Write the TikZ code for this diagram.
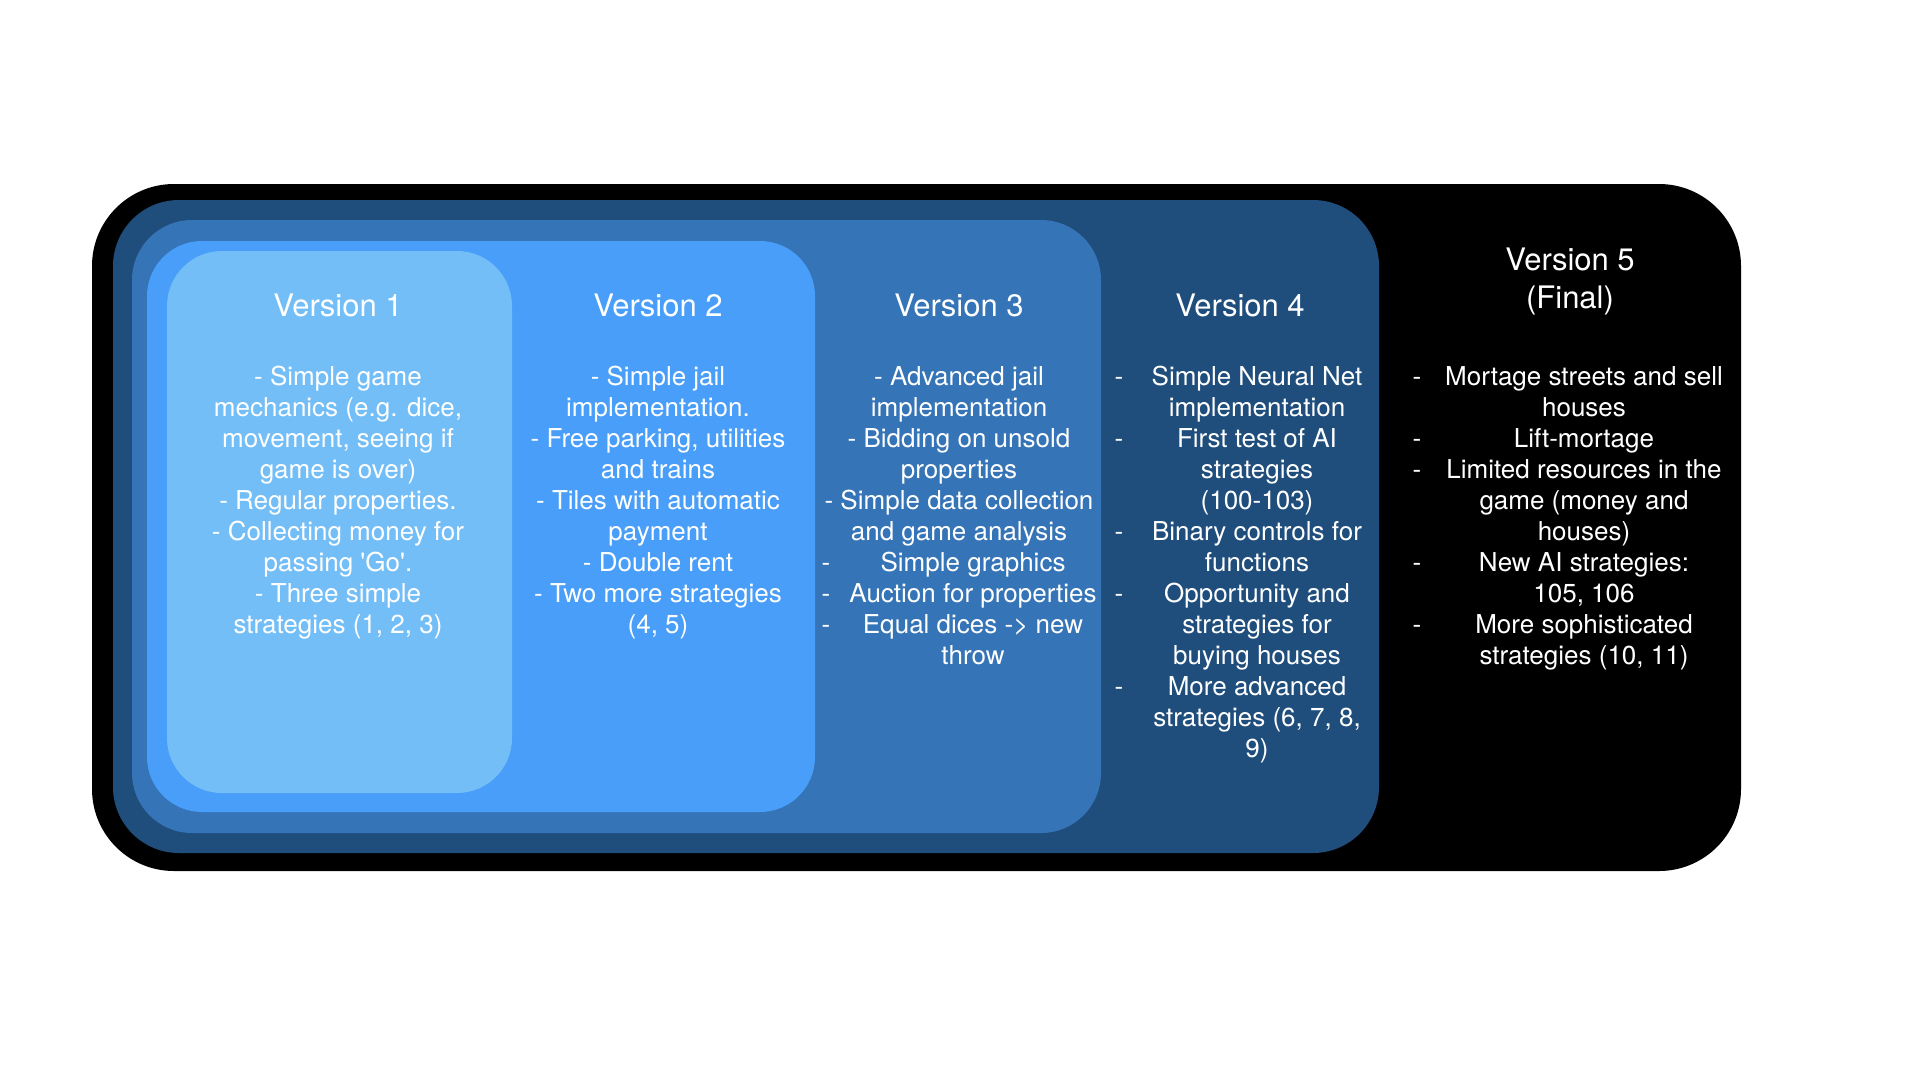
\documentclass[tikz,border=0pt]{standalone}
\usepackage{fontspec}
\setmainfont{TeX Gyre Heros}
\definecolor{cblack}{HTML}{000000}
\definecolor{cv4}{HTML}{1F4E7D}
\definecolor{cv3}{HTML}{3574B6}
\definecolor{cv2}{HTML}{489EF8}
\definecolor{cv1}{HTML}{74BEF8}
\tikzset{
  body/.style={text=white, inner sep=0pt, font=\fontsize{26}{31}\selectfont},
  ttl/.style={text=white, inner sep=0pt, font=\fontsize{31}{38}\selectfont},
}
\newcommand\colLines[4]{%
  \foreach \t [count=\i from 0] in {#4} {
    \node[body, anchor=base, name=#1-\i] at (#2, #3+31*\i) {\t};
  }%
}
\newcommand\colDashes[4]{%
  \foreach \i in {#4} {
    \node[body, anchor=base, name=#1-d\i] at (#2, #3+31*\i) {-};
  }%
}
\begin{document}
\begin{tikzpicture}[x=1pt, y=-1pt]
\useasboundingbox (0,0) rectangle (1920,1080);
\fill[white] (0,0) rectangle (1920,1080);
% nested version boxes
\fill[cblack, rounded corners=82pt] (92,184) rectangle (1741,871);
\fill[cv4, rounded corners=66pt] (113,200) rectangle (1379,853);
\fill[cv3, rounded corners=60pt] (132,220) rectangle (1101,833);
\fill[cv2, rounded corners=55pt] (147,241) rectangle (815,812);
\fill[cv1, rounded corners=55pt] (167,251) rectangle (512,793);
% titles
\node[ttl, anchor=base] (t1) at (338,316) {Version 1};
\node[ttl, anchor=base] (t2) at (658,316) {Version 2};
\node[ttl, anchor=base] (t3) at (959,316) {Version 3};
\node[ttl, anchor=base] (t4) at (1240,316) {Version 4};
\node[ttl, anchor=base] (t5a) at (1570,270) {Version 5};
\node[ttl, anchor=base] (t5b) at (1570,308) {(Final)};
% Version 1
\colLines{a}{338}{385}{{- Simple game},{mechanics (e.g. dice,},{movement, seeing if},{game is over)},{- Regular properties.},{- Collecting money for},{passing \textquotesingle Go\textquotesingle.},{- Three simple},{strategies (1, 2, 3)}}
% Version 2
\colLines{b}{658}{385}{{- Simple jail},{implementation.},{- Free parking, utilities},{and trains},{- Tiles with automatic},{payment},{- Double rent},{- Two more strategies},{(4, 5)}}
% Version 3
\colLines{c}{959}{385}{{- Advanced jail},{implementation},{- Bidding on unsold},{properties},{- Simple data collection},{and game analysis}}
\colLines{cc}{973}{571}{{Simple graphics},{Auction for properties},{Equal dices -> new},{throw}}
\colDashes{cc}{826}{571}{0,1,2}
% Version 4
\colLines{d}{1257}{385}{{Simple Neural Net},{implementation},{First test of AI},{strategies},{(100-103)},{Binary controls for},{functions},{Opportunity and},{strategies for},{buying houses},{More advanced},{strategies (6, 7, 8,},{9)}}
\colDashes{d}{1119}{385}{0,2,5,7,10}
% Version 5
\colLines{e}{1584}{385}{{Mortage streets and sell},{houses},{Lift-mortage},{Limited resources in the},{game (money and},{houses)},{New AI strategies:},{105, 106},{More sophisticated},{strategies (10, 11)}}
\colDashes{e}{1417}{385}{0,2,3,6,8}
\end{tikzpicture}
\end{document}
